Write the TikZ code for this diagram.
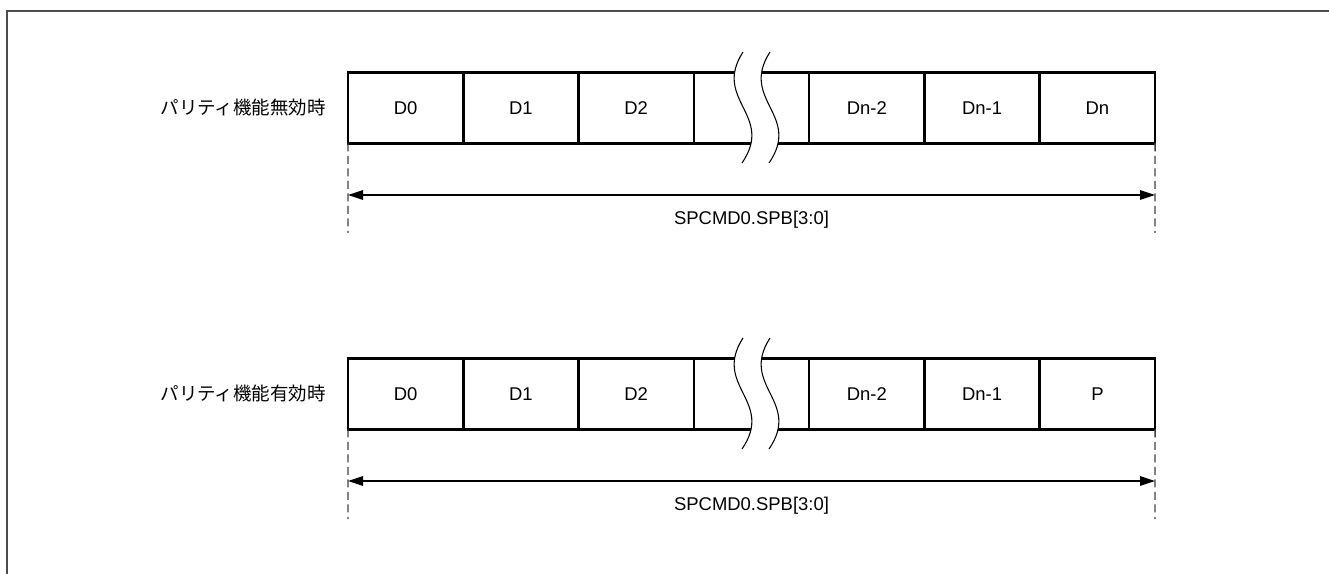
\documentclass[tikz,border=0pt]{standalone}
\usepackage{fontspec}
\setmainfont{Liberation Sans}
\newfontfamily\jpfont{Noto Sans CJK JP}
\usetikzlibrary{arrows.meta}

\begin{document}
\begin{tikzpicture}[
  x=0.02cm, y=-0.02cm,
  cell/.style={draw, line width=1.5pt, minimum width=2.306cm, minimum height=1.42cm,
    inner sep=0pt, outer sep=0pt, font=\fontsize{10.5}{12}\selectfont},
  rowlabel/.style={anchor=east, inner sep=0pt, font=\jpfont\fontsize{10.5}{12}\selectfont},
  guide/.style={draw=black!75, line width=0.8pt, dash pattern=on 0.16cm off 0.09cm},
  span/.style={line width=0.7pt, {Triangle[length=0.3cm,width=0.19cm]}-{Triangle[length=0.3cm,width=0.19cm]}},
  spanlabel/.style={inner sep=0pt, font=\fontsize{10.5}{12}\selectfont},
  wave/.style={line width=0.6pt}
]
\useasboundingbox (0,0) rectangle (1329,574);

% frame
\draw[black!70, line width=0.9pt] (7,574) -- (7,11) -- (1329,11);

% Top part: parity off
\node[rowlabel] (lbla) at (326,108) {パリティ機能無効時};
\node[cell] (d0a) at (405.6,108) {D0};
\node[cell] (d1a) at (520.9,108) {D1};
\node[cell] (d2a) at (636.2,108) {D2};
\node[cell] (gapa) at (751.5,108) {};
\node[cell] (dn2a) at (866.8,108) {Dn-2};
\node[cell] (dn1a) at (982.1,108) {Dn-1};
\node[cell] (dna) at (1097.4,108) {Dn};

% break in the top row
\fill[white] (743,52) .. controls (712,100) and (775,115) .. (742,163)
  -- (769,163) .. controls (802,115) and (739,100) .. (770,52) -- cycle;
\draw[wave] (743,52) .. controls (712,100) and (775,115) .. (742,163);
\draw[wave] (770,52) .. controls (739,100) and (802,115) .. (769,163);

% span of the top row
\coordinate (enda) at (348,233);
\coordinate (endna) at (1155,233);
\coordinate (arra) at (348,195);
\coordinate (arrna) at (1155,195);
\draw[guide] (d0a.south west) -- (enda);
\draw[guide] (dna.south east) -- (endna);
\draw[span] (arra) -- (arrna);
\node[spanlabel] (spba) at (751.5,220) {SPCMD0.SPB[3:0]};

% Bottom part: parity on
\node[rowlabel] (lblb) at (326,394) {パリティ機能有効時};
\node[cell] (d0b) at (405.6,394) {D0};
\node[cell] (d1b) at (520.9,394) {D1};
\node[cell] (d2b) at (636.2,394) {D2};
\node[cell] (gapb) at (751.5,394) {};
\node[cell] (dn2b) at (866.8,394) {Dn-2};
\node[cell] (dn1b) at (982.1,394) {Dn-1};
\node[cell] (pb) at (1097.4,394) {P};

% break in the bottom row
\fill[white] (743,338) .. controls (712,386) and (775,401) .. (742,449)
  -- (769,449) .. controls (802,401) and (739,386) .. (770,338) -- cycle;
\draw[wave] (743,338) .. controls (712,386) and (775,401) .. (742,449);
\draw[wave] (770,338) .. controls (739,386) and (802,401) .. (769,449);

% span of the bottom row
\coordinate (endb) at (348,519);
\coordinate (endnb) at (1155,519);
\coordinate (arrb) at (348,481);
\coordinate (arrnb) at (1155,481);
\draw[guide] (d0b.south west) -- (endb);
\draw[guide] (pb.south east) -- (endnb);
\draw[span] (arrb) -- (arrnb);
\node[spanlabel] (spbb) at (751.5,506) {SPCMD0.SPB[3:0]};

\end{tikzpicture}
\end{document}
